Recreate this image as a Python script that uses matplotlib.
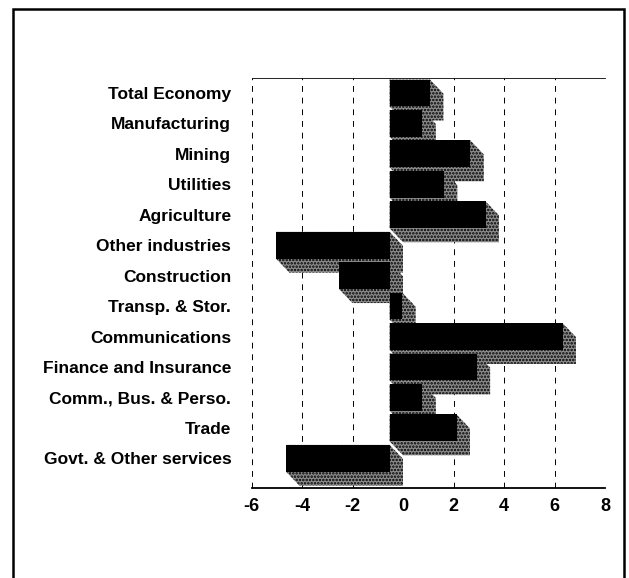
"""
Growth by industry - 3D shaded horizontal bars
"""
import numpy as np
import matplotlib.pyplot as plt
from matplotlib.patches import Polygon, Rectangle

plt.rcParams['font.family'] = ['Liberation Sans', 'DejaVu Sans']
plt.rcParams['hatch.color'] = 'black'
plt.rcParams['hatch.linewidth'] = 1.2

industrias = ['Total Economy', 'Manufacturing', 'Mining', 'Utilities', 'Agriculture',
              'Other industries', 'Construction', 'Transp. & Stor.', 'Communications',
              'Finance and Insurance', 'Comm., Bus. & Perso.', 'Trade',
              'Govt. & Other services']
valores = [1.6, 1.3, 3.2, 2.15, 3.8, -4.5, -2.0, 0.5, 6.85, 3.45, 1.3, 2.65, -4.1]
ticks_x = [-6, -4, -2, 0, 2, 4, 6, 8]

fig = plt.figure(figsize=(6.29, 5.78), dpi=100)
ax = fig.add_axes([251.5 / 629, (578 - 488) / 578, (605 - 251.5) / 629, 410 / 578])

# profundidade do efeito 3D (unidades dos dados)
dx = 0.53
dy = 0.46
meia_altura = 0.44

for i, v in enumerate(valores):
    # face da frente deslocada para a esquerda, face de tras em [0, v]
    x0, x1 = sorted([-dx, v - dx])
    yt, yb = i - meia_altura, i + meia_altura
    sombra = [(x0, yt), (x1, yt), (x1 + dx, yt + dy), (x1 + dx, yb + dy),
              (x0 + dx, yb + dy), (x0, yb)]
    ax.add_patch(Polygon(sombra, closed=True, facecolor='#8c8c8c', hatch='.....',
                         linewidth=0, zorder=3 + 2 * i))
    ax.add_patch(Rectangle((x0, yt), x1 - x0, yb - yt, facecolor='black',
                           linewidth=0, zorder=4 + 2 * i))

ax.set_xlim(-6, 8)
ax.set_ylim(12 + 0.976, -0.493)
ax.set_yticks(range(len(industrias)))
ax.set_yticklabels(industrias, fontsize=12.5, fontweight='bold')
ax.set_xticks(ticks_x)
ax.set_xticklabels([str(t) for t in ticks_x], fontsize=13, fontweight='bold')
ax.tick_params(axis='y', length=0, pad=14.5)
ax.tick_params(axis='x', length=0, pad=7)

for t in ticks_x:
    if t != 0:
        ax.axvline(t, color='black', lw=0.7, ls=(0, (6, 6)), zorder=1)

ax.spines['left'].set_visible(False)
ax.spines['right'].set_visible(False)
ax.spines['top'].set_linewidth(0.6)
ax.spines['bottom'].set_linewidth(1.3)

# moldura externa
fig.add_artist(Rectangle((13 / 629, -0.05), 611 / 629, 1.05 - 9 / 578, transform=fig.transFigure,
                         fill=False, edgecolor='black', lw=1.8))

plt.savefig('out.png', dpi=100)
